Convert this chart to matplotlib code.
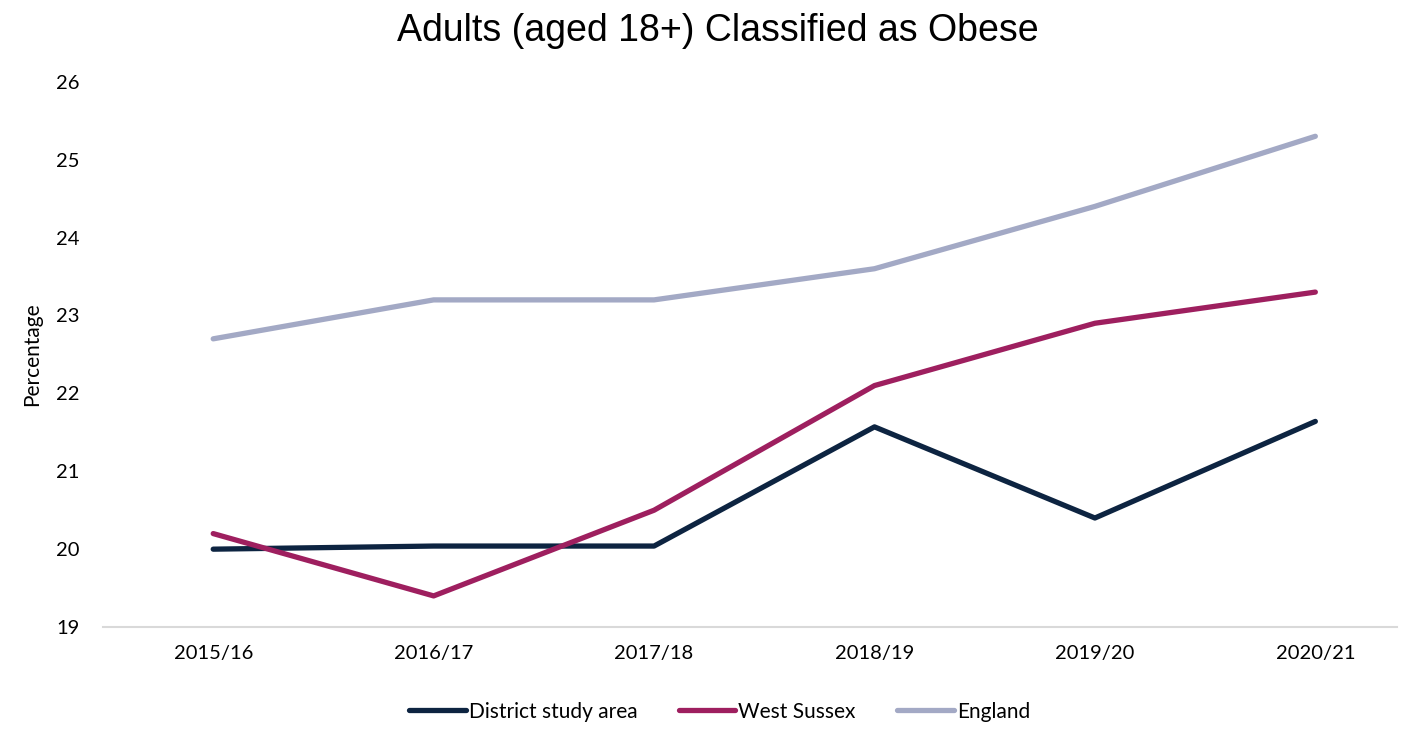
import matplotlib
matplotlib.use("Agg")
import matplotlib.pyplot as plt

# ── data ──────────────────────────────────────────────────────────────────
years = ["2015/16", "2016/17", "2017/18", "2018/19", "2019/20", "2020/21"]
district = [20.0, 20.04, 20.04, 21.57, 20.4, 21.64]
west_sussex = [20.2, 19.4, 20.5, 22.1, 22.9, 23.3]
england = [22.7, 23.2, 23.2, 23.6, 24.4, 25.3]

C_DISTRICT = "#0d2441"
C_WSX = "#9e1f5f"
C_ENG = "#a3a9c5"

plt.rcParams["font.family"] = ["Lato", "DejaVu Sans"]

fig = plt.figure(figsize=(14.11, 7.30), dpi=100)
ax = fig.add_axes([0.073, 0.141, 0.917, 0.747])

x = range(len(years))
ax.plot(x, district, color=C_DISTRICT, lw=3.8, solid_capstyle="round", label="District study area", zorder=3)
ax.plot(x, west_sussex, color=C_WSX, lw=3.8, solid_capstyle="round", label="West Sussex", zorder=3)
ax.plot(x, england, color=C_ENG, lw=3.8, solid_capstyle="round", label="England", zorder=2)

ax.set_xlim(-0.5, 5.37)
ax.set_ylim(19, 26)
ax.set_xticks(list(x))
ax.set_xticklabels(years)
ax.set_yticks(range(19, 27))
ax.tick_params(length=0, labelsize=14.5, colors="black")
ax.tick_params(axis="x", pad=13)
ax.tick_params(axis="y", pad=17)

for s in ["top", "right", "left"]:
    ax.spines[s].set_visible(False)
ax.spines["bottom"].set_color("#d9d9d9")
ax.spines["bottom"].set_linewidth(1.5)

ax.set_ylabel("Percentage", fontsize=15, labelpad=10)
fig.text(0.509, 0.958, "Adults (aged 18+) Classified as Obese", ha="center", va="center",
         fontsize=27, family=["Liberation Sans", "DejaVu Sans"])

leg = fig.legend(loc="center", bbox_to_anchor=(0.51, 0.025), ncol=3, frameon=False,
                 fontsize=15, handlelength=2.7, handletextpad=0.15, columnspacing=2.0)

fig.savefig("out.png", dpi=100)
